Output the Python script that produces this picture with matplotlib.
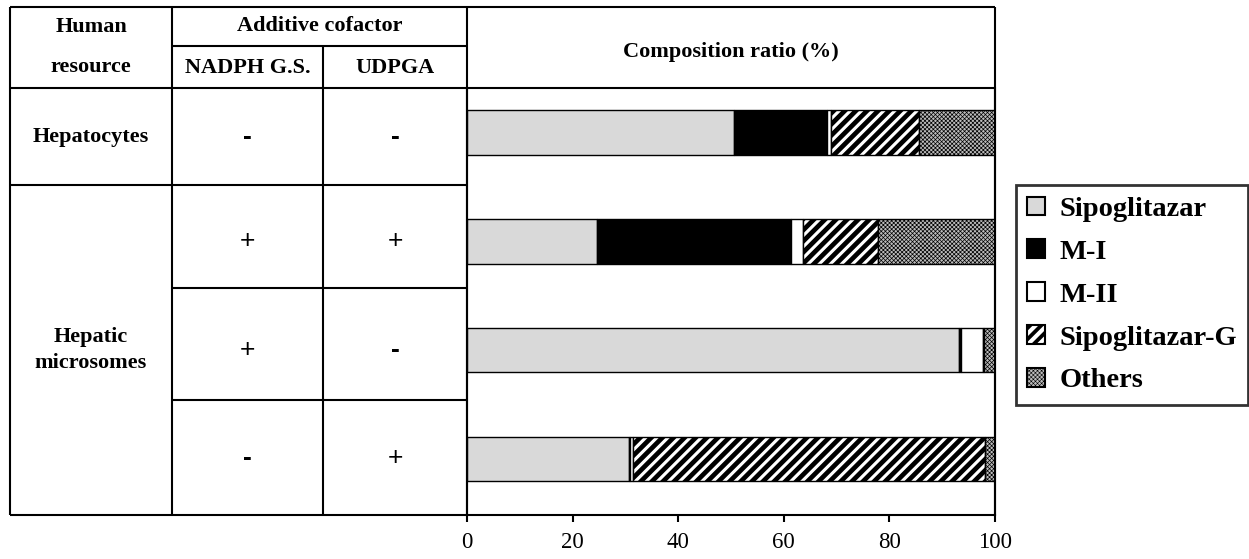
import matplotlib
matplotlib.use("Agg")
import matplotlib.pyplot as plt
import numpy as np

plt.rcParams['font.family'] = ['Liberation Serif', 'DejaVu Serif']

# composition ratio (%) per incubation condition, top to bottom
conditions = ["Hepatocytes", "Microsomes +/+", "Microsomes +/-", "Microsomes -/+"]
sipoglitazar = [50.6, 24.6, 93.2, 30.6]
m1 = [17.6, 36.7, 0.4, 0.3]
m2 = [0.8, 2.3, 4.1, 0.6]
sipoglitazar_g = [16.6, 14.3, 0.3, 66.7]
others = [14.4, 22.1, 2.0, 1.8]

series_names = ["Sipoglitazar", "M-I", "M-II", "Sipoglitazar-G", "Others"]
nadph = ["-", "+", "+", "-"]
udpga = ["-", "+", "-", "+"]
xticks = [0, 20, 40, 60, 80, 100]

W, H = 1249, 559
fig = plt.figure(figsize=(W / 100, H / 100), dpi=100)

# pixel-space layer for the table part
bg = fig.add_axes([0, 0, 1, 1])
bg.set_xlim(0, W)
bg.set_ylim(H, 0)
bg.axis("off")

lw = 1.5
def hline(y, x0, x1):
    bg.plot([x0, x1], [y, y], color="black", lw=lw, solid_capstyle="butt")
def vline(x, y0, y1):
    bg.plot([x, x], [y0, y1], color="black", lw=lw, solid_capstyle="butt")

x_left, x_c1, x_c2, x_plot, x_right = 10, 172, 323, 467, 995
y_top, y_mid, y_head, y_r1, y_r2, y_r3, y_bot = 7, 46, 88, 185, 288, 400, 515

hline(y_top, x_left, x_right)
hline(y_mid, x_c1, x_plot)
hline(y_head, x_left, x_right)
hline(y_r1, x_left, x_plot)
hline(y_r2, x_c1, x_plot)
hline(y_r3, x_c1, x_plot)
hline(y_bot, x_left, x_plot)
vline(x_left, y_top, y_bot)
vline(x_c1, y_top, y_bot)
vline(x_c2, y_mid, y_bot)
vline(x_plot, y_top, y_bot)
vline(x_right, y_top, y_bot)

hfs = 16
bold = dict(fontsize=hfs, fontweight="bold", ha="center", va="center")
bg.text(91, 27, "Human", **bold)
bg.text(91, 67, "resource", **bold)
bg.text((x_c1 + x_plot) / 2, 26, "Additive cofactor", **bold)
bg.text((x_c1 + x_c2) / 2, 68, "NADPH G.S.", **bold)
bg.text((x_c2 + x_plot) / 2, 68, "UDPGA", **bold)
bg.text((x_plot + x_right) / 2, 52, "Composition ratio (%)", **bold)
bg.text(91, 137, "Hepatocytes", **bold)
bg.text(91, 350, "Hepatic\nmicrosomes", linespacing=1.45, **bold)

row_y = [137, 241, 350, 458]
for y, a, b in zip(row_y, nadph, udpga):
    for x, s in ((247, a), (395, b)):
        bg.text(x, y, s, fontsize=19, fontweight="bold" if s == "-" else "normal",
                family="Liberation Sans", ha="center", va="center")

# stacked bars
ax = fig.add_axes([x_plot / W, 1 - y_bot / H, (x_right - x_plot) / W, (y_bot - y_head) / H])
ax.patch.set_alpha(0)
y = np.arange(len(conditions))
bh = 0.41
left = np.zeros(len(conditions))
styles = [
    dict(color="#d9d9d9", hatch=None, hlw=None),
    dict(color="black", hatch=None, hlw=None),
    dict(color="white", hatch=None, hlw=None),
    dict(color="white", hatch="///", hlw=3.4),
    dict(color="#bcbcbc", hatch="xxxxxxxx", hlw=0.5),
]
handles = []
for vals, name, st in zip([sipoglitazar, m1, m2, sipoglitazar_g, others], series_names, styles):
    if st["hlw"] is not None:
        plt.rcParams['hatch.linewidth'] = st["hlw"]
    bars = ax.barh(y, vals, height=bh, left=left, color=st["color"], edgecolor="black",
                   linewidth=1.0, hatch=st["hatch"], label=name)
    for p in bars:
        if st["hlw"] is not None and hasattr(p, "set_hatch_linewidth"):
            p.set_hatch_linewidth(st["hlw"])
    handles.append(bars)
    left = left + np.array(vals)

ax.set_xlim(0, 100)
ax.set_ylim(3.514, -0.408)
ax.set_yticks([])
ax.set_xticks(xticks)
ax.set_xticklabels([str(t) for t in xticks], fontsize=16.5)
ax.tick_params(axis="x", direction="out", length=5, width=1.5, pad=7)
for s in ax.spines.values():
    s.set_linewidth(lw)
ax.spines["top"].set_visible(False)

leg = fig.legend(handles=handles, labels=series_names, loc="center left",
                 bbox_to_anchor=(1016 / W, 1 - 295 / H), frameon=True, fancybox=False,
                 prop=dict(family="Liberation Serif", weight="bold", size=20.5),
                 handlelength=0.62, handleheight=0.62, handletextpad=0.5,
                 labelspacing=0.62, borderpad=0.4, borderaxespad=0)
leg.get_frame().set_edgecolor("black")
leg.get_frame().set_linewidth(2)
for h, st in zip(leg.legend_handles, styles):
    h.set_linewidth(1.5)
    if st["hlw"] is not None and hasattr(h, "set_hatch_linewidth"):
        h.set_hatch_linewidth(st["hlw"] * 0.8)

fig.savefig("out.png", dpi=100)
